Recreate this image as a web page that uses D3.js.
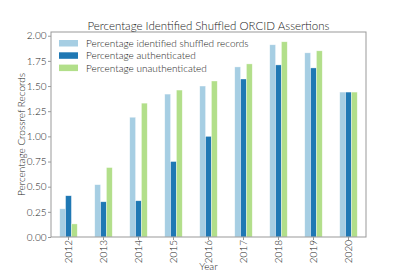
<!DOCTYPE html>
<html lang="en">
	<head>
		<meta charset="utf-8">
		<title>Percentage Identified Shuffled ORCID Assertions</title>
		<script type="text/javascript" src="https://cdn.jsdelivr.net/npm/d3@7"></script>
		<style type="text/css">
			body {
					margin: 0;
					background: #fff;
			}
			text {
					font-family: Lato, sans-serif;
					font-weight: 300;
					fill: #222;
			}
		</style>
	</head>
	<body>
		<script type="text/javascript">
			// data
			var years = ["2012", "2013", "2014", "2015", "2016", "2017", "2018", "2019", "2020"];
			var seriesNames = ["Percentage identified shuffled records", "Percentage authenticated", "Percentage unauthenticated"];
			var shuffled = [0.28, 0.52, 1.19, 1.42, 1.50, 1.69, 1.91, 1.83, 1.44];
			var authenticated = [0.41, 0.35, 0.36, 0.75, 1.00, 1.57, 1.71, 1.68, 1.44];
			var unauthenticated = [0.13, 0.69, 1.33, 1.46, 1.55, 1.72, 1.94, 1.85, 1.44];
			var yTicks = [0, 0.25, 0.5, 0.75, 1.0, 1.25, 1.5, 1.75, 2.0];
			var colors = ["#a6cee3", "#1f78b4", "#b2df8a"];

			var w = 407, h = 271;
			var margin = {top: 32, right: 41, bottom: 34, left: 51};
			var iw = w - margin.left - margin.right,
					ih = h - margin.top - margin.bottom;

			var svg = d3.select("body")
							.append("svg")
							.attr("width", w)
							.attr("height", h);

			var g = svg.append("g")
							.attr("transform", "translate(" + margin.left + "," + margin.top + ")");

			var x = d3.scaleBand()
						.domain(years)
						.range([0, iw]);

			var x1 = d3.scaleBand()
						.domain([0, 1, 2])
						.range([x.bandwidth() * 0.25, x.bandwidth() * 0.75]);

			var y = d3.scaleLinear()
						.domain([0, 2.037])
						.range([ih, 0]);

			var allSeries = [shuffled, authenticated, unauthenticated];

			// bars
			allSeries.forEach(function(vals, s) {
				g.selectAll(".bar" + s)
					.data(vals)
					.enter()
					.append("rect")
					.attr("x", function(d, i) { return x(years[i]) + x1(s); })
					.attr("y", function(d) { return y(d); })
					.attr("width", x1.bandwidth())
					.attr("height", function(d) { return ih - y(d); })
					.attr("fill", colors[s])
					.attr("stroke", "#fff")
					.attr("stroke-opacity", 0.6)
					.attr("stroke-width", 0.6);
			});

			// y axis
			var yAxis = g.append("g")
							.call(d3.axisLeft(y).tickValues(yTicks).tickFormat(d3.format(".2f")).tickSize(3).tickPadding(1.5));
			yAxis.selectAll("text").style("font-size", "10px").attr("fill", "#222");

			// x axis
			var xAxis = g.append("g")
							.attr("transform", "translate(0," + ih + ")")
							.call(d3.axisBottom(x).tickSize(3).tickPadding(2));
			xAxis.selectAll("text")
				.style("font-size", "10px")
				.attr("fill", "#222")
				.attr("transform", "rotate(-90)")
				.attr("text-anchor", "end")
				.attr("x", -3)
				.attr("y", 0)
				.attr("dy", "0.35em");

			svg.selectAll(".domain").remove();
			svg.selectAll(".tick line").attr("stroke", "#999");

			// frame
			g.append("rect")
				.attr("width", iw)
				.attr("height", ih)
				.attr("fill", "none")
				.attr("stroke", "#999")
				.attr("stroke-width", 1);

			// title and labels
			svg.append("text")
				.attr("x", margin.left + iw / 2)
				.attr("y", 30)
				.attr("text-anchor", "middle")
				.style("font-size", "11.5px")
				.text("Percentage Identified Shuffled ORCID Assertions");

			svg.append("text")
				.attr("x", margin.left + iw / 2)
				.attr("y", 270)
				.attr("text-anchor", "middle")
				.style("font-size", "10px")
				.text("Year");

			svg.append("text")
				.attr("transform", "translate(25," + (margin.top + ih / 2) + ") rotate(-90)")
				.attr("text-anchor", "middle")
				.style("font-size", "10px")
				.text("Percentage Crossref Records");

			// legend
			var legend = g.selectAll(".legend")
							.data(seriesNames)
							.enter()
							.append("g")
							.attr("transform", function(d, i) { return "translate(8," + (8 + i * 12.3) + ")"; });
			legend.append("rect")
				.attr("width", 19)
				.attr("height", 6.5)
				.attr("fill", function(d, i) { return colors[i]; });
			legend.append("text")
				.attr("x", 27)
				.attr("y", 3.5)
				.attr("dy", "0.35em")
				.style("font-size", "10px")
				.text(function(d) { return d; });
		</script>
	</body>
</html>
